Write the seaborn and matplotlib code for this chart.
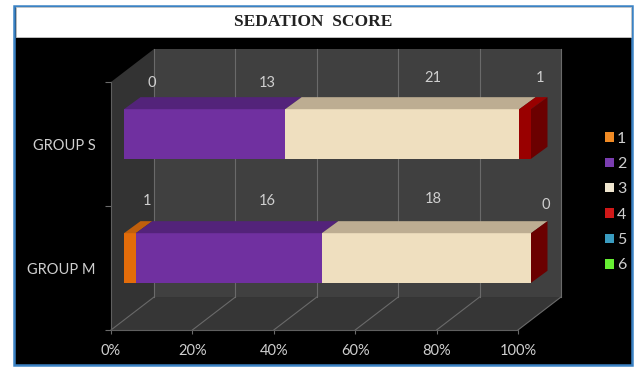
import matplotlib
matplotlib.use("Agg")
import matplotlib.pyplot as plt
from matplotlib.patches import Rectangle, Patch
import pandas as pd
import seaborn as sns

groups = ["GROUP S", "GROUP M"]
scores = ["1", "2", "3", "4", "5", "6"]
# widths of the drawn segments, percent
pct_1 = [0.0, 2.9]
pct_2 = [39.6, 45.7]
pct_3 = [57.5, 51.4]
pct_4 = [2.9, 0.0]
# printed data labels
labels_s = ["0", "13", "21", "1"]
labels_m = ["1", "16", "18", "0"]
xticks = [0, 20, 40, 60, 80, 100]
xticklabels = ["0%", "20%", "40%", "60%", "80%", "100%"]

front = ["#e36c0a", "#7030a0", "#efdfbf", "#990000"]
top = ["#c05f0c", "#53237a", "#bdad92", "#990000"]
side = "#6b0000"
legend_cols = ["#f08a24", "#7a3db0", "#efe6cf", "#d01818", "#3a9cc0", "#66ee33"]
TXT = "#cfcfcf"

W, H = 636, 367
fig = plt.figure(figsize=(W / 100, H / 100), dpi=100, facecolor="white")

def box(x0, y0, x1, y1):
    return [x0 / W, 1 - y1 / H, (x1 - x0) / W, (y1 - y0) / H]

def frect(x0, y0, x1, y1, **kw):
    b = box(x0, y0, x1, y1)
    fig.add_artist(Rectangle((b[0], b[1]), b[2], b[3], transform=fig.transFigure, zorder=-2, **kw))

frect(14.5, 6, 632, 365, facecolor="black", edgecolor="#3b82c4", linewidth=1.8)
frect(15.5, 7, 631, 37, facecolor="white", edgecolor="#c8c8c8", linewidth=0.6)
fig.text(313.5 / W, 1 - 22 / H, "SEDATION  SCORE", family="Liberation Serif", weight="bold",
         fontsize=12.5, color="#222222", ha="center", va="center")

# base axes: the front plane of the chart box
base = fig.add_axes(box(111, 82, 518, 330), facecolor="none", zorder=1)
base.set_xlim(0, 100)
base.set_ylim(1.5, -0.5)
DX, DY = 10.57, -0.266
wall = "#404040"
side_wall = "#333333"
base.fill([DX, 100 + DX, 100 + DX, DX], [-0.5 + DY, -0.5 + DY, 1.5 + DY, 1.5 + DY], color=wall, clip_on=False, lw=0)
base.fill([0, DX, DX, 0], [-0.5, -0.5 + DY, 1.5 + DY, 1.5], color=side_wall, clip_on=False, lw=0)
base.fill([0, 100, 100 + DX, DX], [1.5, 1.5, 1.5 + DY, 1.5 + DY], color="#363636", clip_on=False, lw=0)
for t in xticks:
    base.plot([t + DX, t + DX], [-0.5 + DY, 1.5 + DY], color="#6a6a6a", lw=0.8, clip_on=False)
    base.plot([t, t + DX], [1.5, 1.5 + DY], color="#6a6a6a", lw=0.8, clip_on=False)
for s in ["top", "right"]:
    base.spines[s].set_visible(False)
for s in ["left", "bottom"]:
    base.spines[s].set_color("#5f5f5f")
    base.spines[s].set_linewidth(0.8)
base.set_xticks(xticks, xticklabels, fontsize=10.5, family="Lato", color=TXT)
base.tick_params(axis="x", length=3, width=0.8, color="#6a6a6a", pad=7)
base.set_yticks([0, 1], groups, fontsize=10.5, family="Lato", color=TXT)
base.tick_params(axis="y", which="major", length=0, pad=11)
base.set_yticks([-0.5, 0.5, 1.5], minor=True)
base.tick_params(axis="y", which="minor", length=4, width=0.8, color="#6a6a6a")

# bars: a plane shifted forward inside the box
ax = fig.add_axes(box(124, 72, 531, 320), facecolor="none", zorder=2)
series = [pct_1, pct_2, pct_3, pct_4]
lefts, rights = [], []
run = [0.0, 0.0]
for v in series:
    lefts.append(list(run))
    run = [a + b for a, b in zip(run, v)]
    rights.append(list(run))
for i in range(3, -1, -1):
    df = pd.DataFrame({"group": groups, "cum": rights[i]})
    sns.barplot(data=df, y="group", x="cum", color=front[i], saturation=1, width=0.4, ax=ax,
                order=groups, errorbar=None, linewidth=0)
ax.set_xlim(0, 100)
ax.set_ylim(1.5, -0.5)
ax.axis("off")
dx, dy = 4.05, -0.097
for g in range(2):
    y0 = g - 0.2
    y1 = g + 0.2
    for i in range(4):
        l, r = lefts[i][g], rights[i][g]
        if r > l:
            ax.fill([l, r, r + dx, l + dx], [y0, y0, y0 + dy, y0 + dy], color=top[i], lw=0, clip_on=False)
    r = rights[3][g]
    ax.fill([r, r + dx, r + dx, r], [y0, y0 + dy, y1 + dy, y1], color=side, lw=0, clip_on=False)

# data labels
label_xy_s = [(152, 83), (267, 83), (433, 78), (540, 78)]
label_xy_m = [(147, 201), (267, 201), (433, 199), (546, 205)]
for txts, xys in ((labels_s, label_xy_s), (labels_m, label_xy_m)):
    for t, (x, y) in zip(txts, xys):
        fig.text(x / W, 1 - y / H, t, fontsize=10.5, family="Lato", color=TXT, ha="center", va="center", zorder=5)

handles = [Patch(facecolor=c, edgecolor="none", label=s) for c, s in zip(legend_cols, scores)]
fig.legend(handles=handles, loc="center left", bbox_to_anchor=(605 / W, 1 - 202 / H), frameon=False,
           prop={"family": "Lato", "size": 11.5}, labelcolor=TXT, handlelength=0.55, handleheight=0.55,
           handletextpad=0.2, labelspacing=0.71, borderpad=0, borderaxespad=0)

fig.savefig("out.png", dpi=100, facecolor="white")
